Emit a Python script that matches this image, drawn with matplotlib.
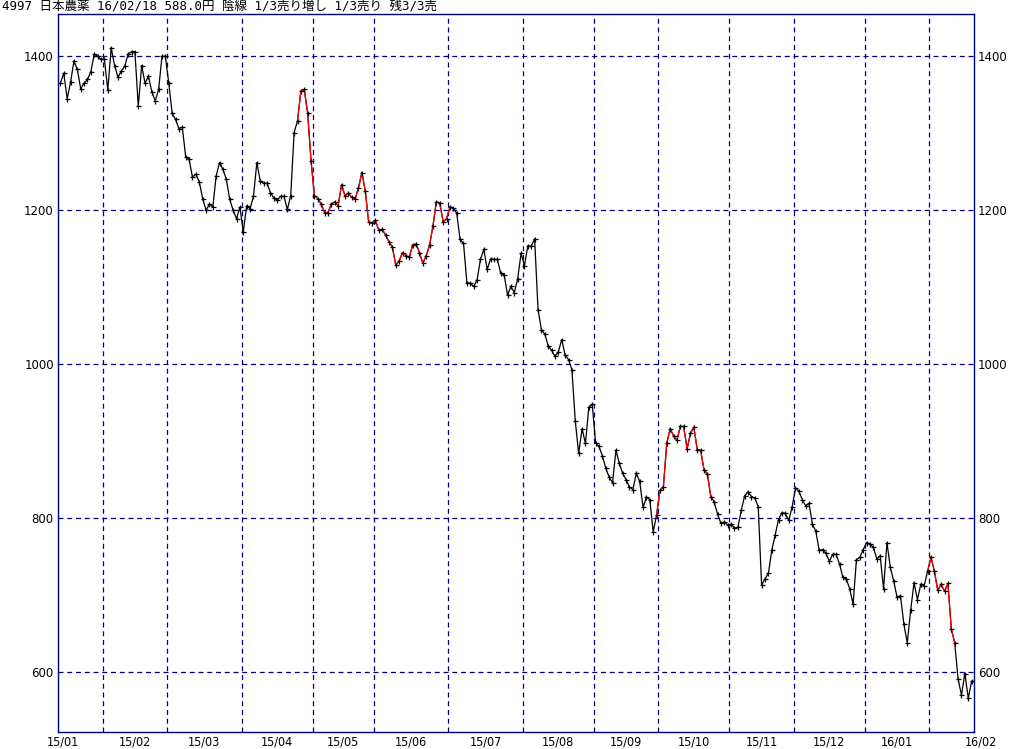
import numpy as np
import matplotlib
matplotlib.use("Agg")
import matplotlib.pyplot as plt
import matplotlib.transforms as mtransforms

# ---------------- data ----------------
title = "4997 日本農薬 16/02/18 588.0円 陰線 1/3売り増し 1/3売り 残3/3売"

month_labels = ["15/01", "15/02", "15/03", "15/04", "15/05", "15/06", "15/07",
                "15/08", "15/09", "15/10", "15/11", "15/12", "16/01", "16/02"]
# trading days shown in each month
month_days = [13, 19, 22, 21, 18, 22, 22, 21, 19, 21, 19, 21, 19, 13]

close = [
    1365, 1378, 1345, 1366, 1394, 1383, 1358, 1365, 1370, 1380, 1403, 1400, 1396, 1396, 1356,
    1411, 1388, 1373, 1381, 1387, 1403, 1406, 1406, 1335, 1388, 1365, 1374, 1354, 1342, 1357,
    1400, 1400, 1365, 1326, 1318, 1306, 1308, 1269, 1266, 1243, 1247, 1237, 1215, 1200, 1208,
    1204, 1245, 1262, 1253, 1240, 1214, 1200, 1189, 1204, 1172,
    1206, 1202, 1218, 1262, 1238, 1235, 1235, 1223, 1216, 1213, 1218, 1218, 1201, 1219, 1301,
    1316, 1355, 1357, 1326, 1264, 1219, 1215, 1208, 1197, 1197, 1208, 1211, 1206, 1233, 1219,
    1222, 1217, 1214, 1229, 1249, 1225, 1185, 1183, 1187, 1174, 1175, 1168, 1159, 1152, 1129,
    1134, 1145, 1141, 1139, 1155, 1156, 1145, 1131, 1141, 1155, 1180, 1211, 1209,
    1185, 1189, 1204, 1203, 1196, 1162, 1157, 1106, 1105, 1101, 1109, 1136, 1149, 1123, 1137,
    1136, 1136, 1118, 1116, 1090, 1101, 1093, 1111, 1144, 1128, 1154, 1153, 1163, 1071, 1045,
    1039, 1024, 1018, 1010, 1016, 1032, 1012, 1006, 993,
    926, 884, 916, 897, 944, 948, 898, 893, 881, 865, 853, 846, 888, 871, 858,
    850, 840, 837, 858, 848, 814, 827, 824, 782, 804, 836, 840, 897, 916, 907,
    901, 919, 919, 890, 910, 918, 889, 888, 863, 857, 828, 821, 805, 793, 795,
    791, 792, 787, 788, 810, 829, 834, 828, 826, 815,
    713, 721, 728, 758, 778, 798, 807, 806, 797, 814, 839, 835, 824, 816, 819,
    792, 783, 758, 759, 754, 744, 753, 753, 740, 723, 721, 708, 688, 746, 749,
    759, 768, 766, 762, 747, 751, 708, 768, 736, 718, 697, 699, 662, 638, 680,
    716, 694, 714, 712, 731, 749, 731, 706, 714, 705, 715, 656, 638, 591, 570,
    598, 566, 588,
]

# index ranges (inclusive) drawn in red (signal periods)
red_spans = [(70, 115), (176, 192), (256, 264)]

y_ticks = [600, 800, 1000, 1200, 1400]

# ---------------- drawing ----------------
W, H = 1032, 749
fig = plt.figure(figsize=(W / 100, H / 100), dpi=100)
fig.patch.set_facecolor("white")
left, right, top, bottom = 58, 974, 14, 732
ax = fig.add_axes([left / W, 1 - bottom / H, (right - left) / W, (bottom - top) / H])

navy = "#000080"
x = np.arange(len(close))
y = np.array(close, dtype=float)

ax.set_xlim(-0.7, len(close) - 0.3)
ax.set_ylim(522, 1455)

# grid
bounds = np.cumsum(month_days)[:-1] - 0.5
for b in bounds:
    ax.axvline(b, color=navy, lw=0.9, ls=(0, (4, 3)), zorder=1)
for t in y_ticks:
    ax.axhline(t, color=navy, lw=0.9, ls=(0, (4, 3)), zorder=1)

ax.plot(x, y, color="black", lw=0.9, zorder=2)
for s, e in red_spans:
    ax.plot(x[s:e + 1], y[s:e + 1], color="red", lw=0.9, zorder=3)
ax.plot(x, y, ls="none", marker="+", ms=3.6, mew=0.9, color="black", zorder=4)

for sp in ax.spines.values():
    sp.set_color(navy)
    sp.set_linewidth(1.0)

ax.set_yticks(y_ticks)
ax.set_yticklabels([str(t) for t in y_ticks])
ax.tick_params(axis="y", left=True, right=True, labelleft=True, labelright=True,
               length=0, pad=3, labelsize=8.5)
ax.set_xticks([])

# month labels: centred in each month, end labels at the edges
starts = np.concatenate([[0], np.cumsum(month_days)[:-1]])
centres = starts + (np.array(month_days) - 1) / 2.0
centres[0] = 0.8
centres[-1] = len(close) + 1.7
trans = mtransforms.blended_transform_factory(ax.transData, ax.transAxes)
for cx, lab in zip(centres, month_labels):
    ax.text(cx, -0.005, lab, transform=trans, ha="center", va="top",
            fontsize=9, fontstretch="condensed", clip_on=False)

fig.text(2 / W, 1 - 0.5 / H, title, ha="left", va="top", fontsize=9,
         family=["DejaVu Sans Mono", "Noto Sans CJK JP"])

fig.savefig("out.png", dpi=100)
